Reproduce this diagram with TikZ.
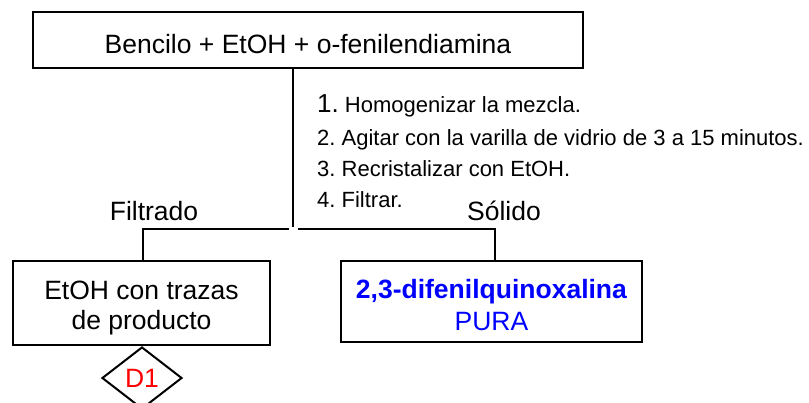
\documentclass[tikz,border=0pt]{standalone}
\usepackage{fontspec}
\setmainfont{Liberation Sans}
\usetikzlibrary{shapes.geometric}
\definecolor{pureblue}{RGB}{0,0,255}
\definecolor{purered}{RGB}{255,0,0}
\frenchspacing
\begin{document}
\begin{tikzpicture}[x=1pt,y=-1pt,
  box/.style={draw, line width=2pt, inner sep=0pt, align=center,
    font=\fontsize{26.5}{30}\selectfont},
  steptext/.style={anchor=base west, inner sep=0pt, font=\fontsize{22}{26}\selectfont},
  branchlabel/.style={anchor=base, inner sep=0pt, font=\fontsize{26.5}{32}\selectfont},
  conn/.style={line width=2pt},
  decision/.style={draw, diamond, line width=2pt, inner sep=0pt,
    minimum width=80pt, minimum height=62pt, text=purered,
    font=\fontsize{26.5}{32}\selectfont}]
\useasboundingbox (0,0) rectangle (809,402);

\node[box, minimum width=550pt, minimum height=56pt] (top) at (308,40)
  {\rule{0pt}{27pt}Bencilo + EtOH + o-fenilendiamina};

\node[steptext] (s1) at (317,112) {{\fontsize{26}{26}\selectfont 1.} Homogenizar la mezcla.};
\node[steptext] (s2) at (317,145) {2. Agitar con la varilla de vidrio de 3 a 15 minutos.};
\node[steptext] (s3) at (317,176) {3. Recristalizar con EtOH.};
\node[steptext] (s4) at (317,207) {4. Filtrar.};

\node[branchlabel] (fil) at (154,220) {Filtrado};
\node[branchlabel] (sol) at (504,220) {Sólido};

\node[box, minimum width=257pt, minimum height=84pt] (left) at (141.5,303)
  {\rule{0pt}{27.5pt}EtOH con trazas\\de producto};
\node[box, minimum width=301pt, minimum height=81pt, text=pureblue,
  font=\fontsize{26.5}{32}\selectfont] (right) at (491.5,301.5)
  {\rule{0pt}{26pt}\textbf{2,3-difenilquinoxalina}\\PURA};

\node[decision, anchor=north] (d1) at ([xshift=0.5pt]left.south) {D1};

\coordinate (mid) at (293,227);
\coordinate (hm1) at (289,229);
\coordinate (hl) at (143,229);
\coordinate (hm2) at (298,229);
\coordinate (hr) at (495,229);

\draw[conn] (top.south -| mid) -- (mid);
\draw[conn] (hm1) -- (hl) -- (hl |- left.north);
\draw[conn] (hm2) -- (hr) -- (hr |- right.north);
\end{tikzpicture}
\end{document}
